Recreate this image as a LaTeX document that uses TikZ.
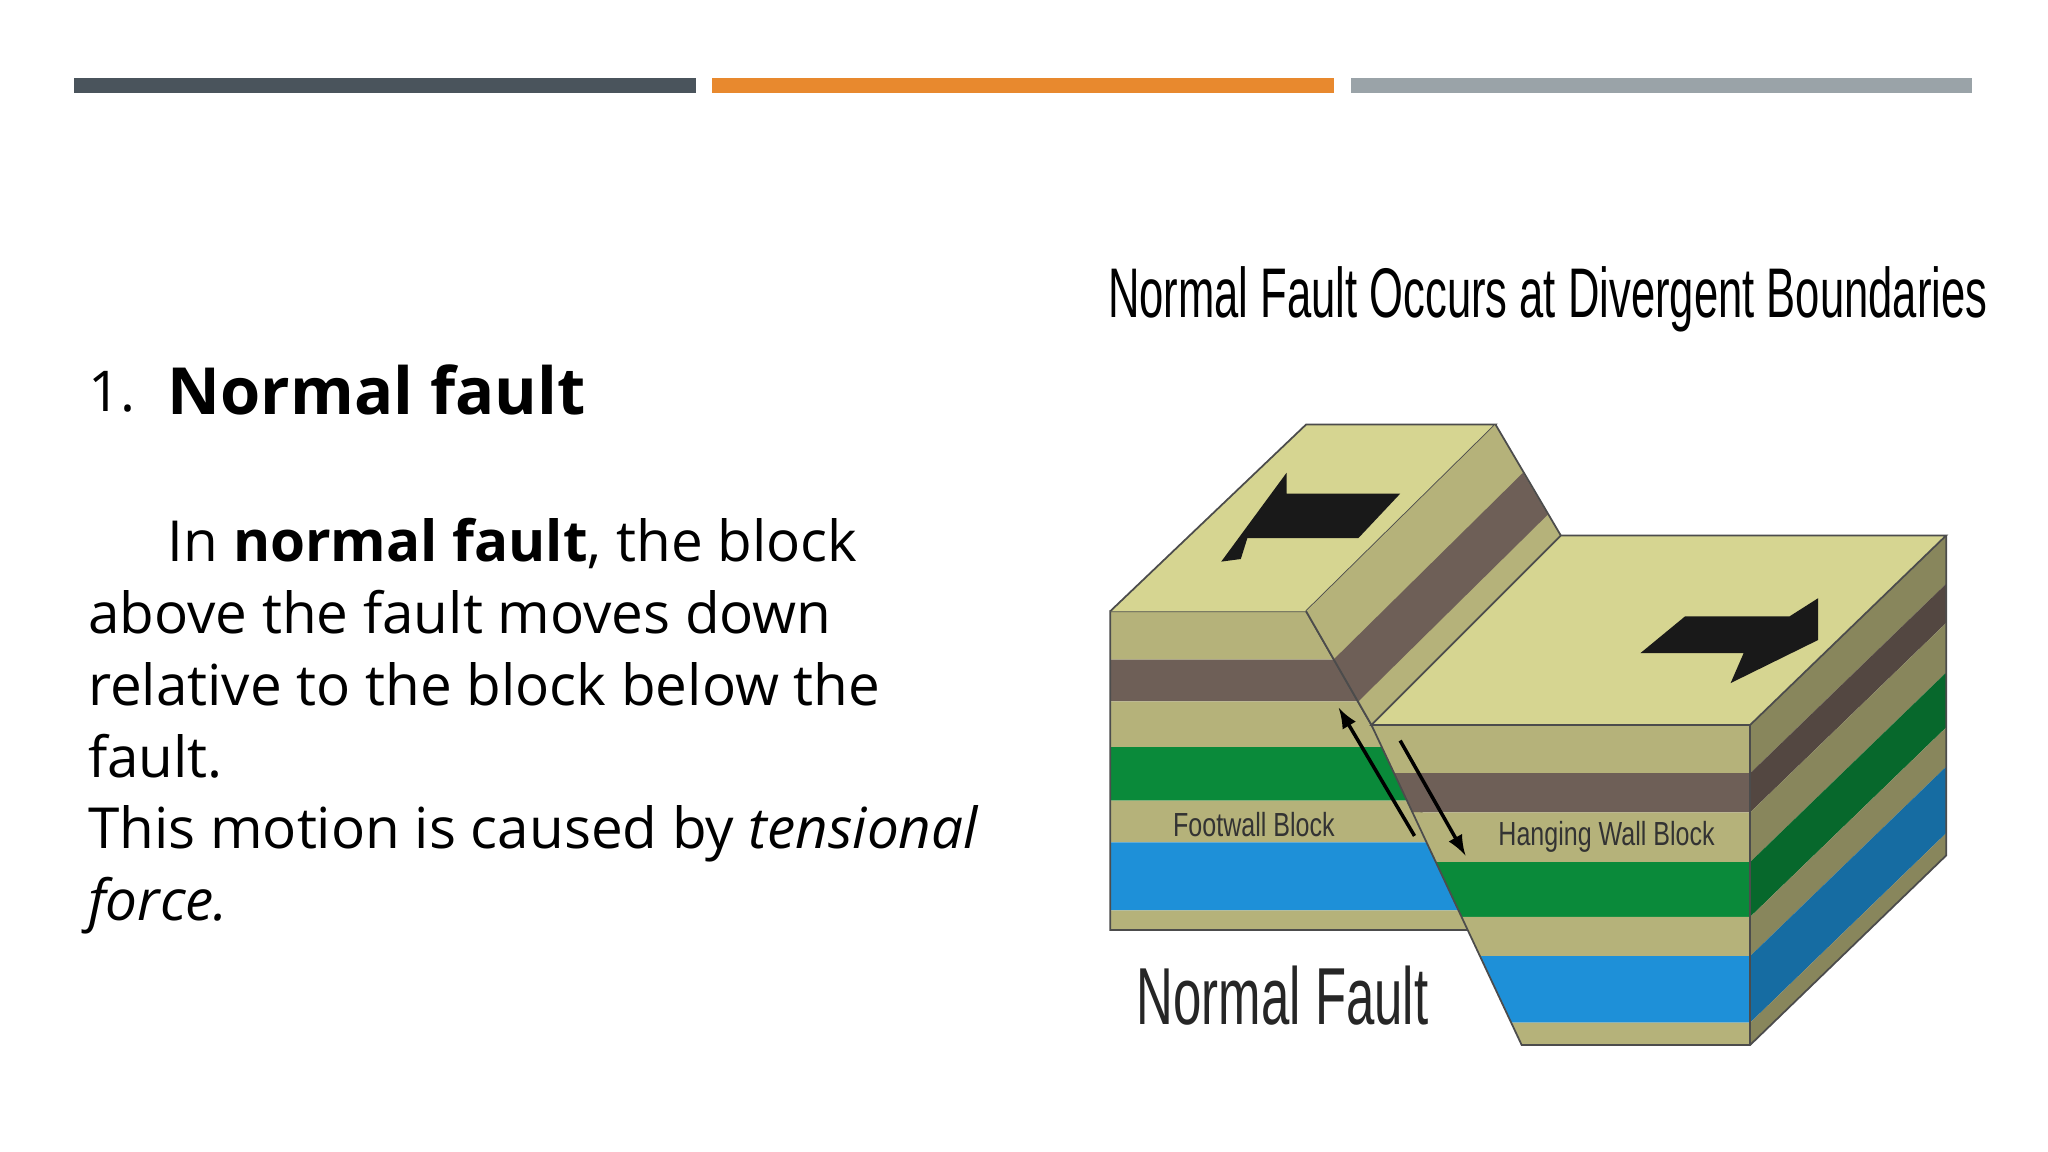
\documentclass[tikz,border=0pt]{standalone}
\usepackage{fontspec}
\setmainfont{Open Sans}
\newfontfamily\narrowf{Liberation Sans}
\begin{document}
\begin{tikzpicture}[x=0.013061cm,y=-0.013061cm,
  txt/.style={anchor=base west,inner sep=0pt,font=\fontsize{16.1}{20}\selectfont},
  lbl/.style={inner sep=0pt,font=\narrowf\fontsize{9.5}{11}\selectfont,text=black!80,xscale=0.75},
  edge/.style={draw=black!70,line width=0.5pt},
  blk/.style={fill=black!90}]
\definecolor{kh}{HTML}{B5B27A}
\definecolor{br}{HTML}{6E5F57}
\definecolor{gr}{HTML}{0A8A3A}
\definecolor{bl}{HTML}{1E90D8}
\definecolor{tp}{HTML}{D6D591}
\definecolor{bara}{HTML}{4A545C}
\definecolor{barb}{HTML}{E8892E}
\definecolor{barc}{HTML}{9AA3A8}
\fill[white] (0,0) rectangle (1568,882);
\useasboundingbox (0,0) rectangle (1568,882);
% header bars
\fill[bara] (57,60) rectangle (533,71);
\fill[barb] (545,60) rectangle (1021,71);
\fill[barc] (1034,60) rectangle (1510,71);
% left text
\node[txt,font=\fontsize{16}{20}\selectfont] (n1) at (67,315) {1.};
\node[txt,font=\bfseries\fontsize{18.5}{22}\selectfont] (h1) at (128,317) {Normal fault};
\node[txt] (l1) at (128,430) {In \textbf{normal fault}, the block};
\node[txt] (l2) at (67,485) {above the fault moves down};
\node[txt] (l3) at (67,540) {relative to the block below the};
\node[txt] (l4) at (67,595) {fault.};
\node[txt] (l5) at (67,650) {This motion is caused by \textit{tensional}};
\node[txt] (l6) at (67,705) {\textit{force.}};
% title
\node[inner sep=0pt,font=\narrowf\fontsize{20}{24}\selectfont,xscale=0.62] (title) at (1185,229) {Normal Fault Occurs at Divergent Boundaries};
% footwall front layers
\foreach \a/\b/\c in {468/505/kh,505/537/br,537/572/kh,572/613/gr,613/645/kh,645/697/bl,697/712/kh}{
  \fill[\c] (850,\a) -- ({1000+0.574*(\a-468)},\a) -- ({1000+0.574*(\b-468)},\b) -- (850,\b) -- cycle;}
\draw[edge] (850,468) -- (1000,468) -- (1140,712) -- (850,712) -- cycle;
% footwall top
\fill[tp] (850,468) -- (1000,325) -- (1145,325) -- (1000,468) -- cycle;
\draw[edge] (850,468) -- (1000,325) -- (1145,325) -- (1000,468);
% scarp
\fill[kh] (1000,468) -- (1145,325) -- (1195,410) -- (1050,555) -- cycle;
\fill[br] (1021,505) -- (1166,362) -- (1185,394) -- (1040,537) -- cycle;
\draw[edge] (1145,325) -- (1195,410);
% hanging wall
\foreach \a/\b/\c in {555/592/kh,592/622/br,622/660/kh,660/702/gr,702/732/kh,732/783/bl,783/800/kh}{
  \fill[\c] ({1050+0.47*(\a-555)},\a) -- (1340,\a) -- (1340,\b) -- ({1050+0.47*(\b-555)},\b) -- cycle;
  \fill[\c!75!black] (1340,\a) -- (1490,\a-145) -- (1490,\b-145) -- (1340,\b) -- cycle;}
\fill[tp] (1050,555) -- (1195,410) -- (1490,410) -- (1340,555) -- cycle;
\draw[edge] (1050,555) -- (1195,410) -- (1490,410) -- (1340,555) -- cycle;
\draw[edge] (1050,555) -- (1165,800) -- (1340,800) -- (1490,655) -- (1490,410);
\draw[edge] (1340,555) -- (1340,800);
\draw[edge] (1000,468) -- (1050,555);
% arrows on top
\fill[blk] (935,430) -- (985,362) -- (985,378) -- (1072,378) -- (1040,412) -- (955,412) -- (950,428) -- cycle;
\fill[blk] (1392,490) -- (1325,523) -- (1335,500) -- (1256,500) -- (1290,472) -- (1370,472) -- (1392,458) -- cycle;
% fault motion arrows
\coordinate (fa1) at (1025,542); \coordinate (fa2) at (1083,640);
\coordinate (fb1) at (1072,567); \coordinate (fb2) at (1122,655);
\draw[-latex,line width=1pt] (fa2) -- (fa1);
\draw[-latex,line width=1pt] (fb1) -- (fb2);
% labels
\node[lbl] (fw) at (960,631) {Footwall Block};
\node[lbl] (hw) at (1230,641) {Hanging Wall Block};
\node[inner sep=0pt,font=\narrowf\fontsize{23}{27}\selectfont,xscale=0.63,text=black!85] (nf) at (982,762) {Normal Fault};
\end{tikzpicture}
\end{document}
